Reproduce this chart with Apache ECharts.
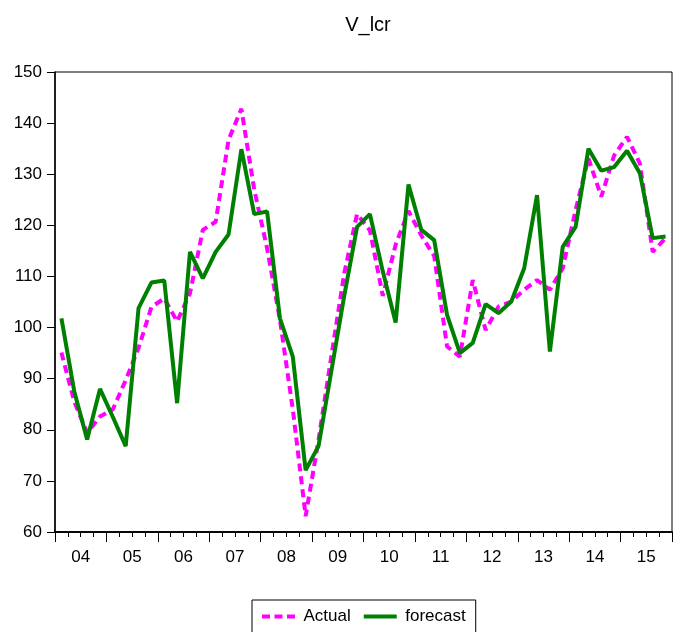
<!DOCTYPE html>
<html>
<head>
<meta charset="utf-8">
<title>V_lcr</title>
<script src="https://cdn.jsdelivr.net/npm/echarts@6/dist/echarts.min.js"></script>
<style>
  html, body { margin: 0; padding: 0; background: #fff; }
  #main { width: 681px; height: 632px; }
</style>
</head>
<body>
<div id="main"></div>
<script>
// quarters 2004Q1 .. 2015Q4
var years = ['04', '05', '06', '07', '08', '09', '10', '11', '12', '13', '14', '15'];
var quarters = [];
for (var y = 2004; y <= 2015; y++) {
    for (var q = 1; q <= 4; q++) quarters.push(y + 'Q' + q);
}

// values
var actual = [
    95.1, 85.5, 79.4, 82.6, 84.0, 89.7, 96.0, 104.0,
    105.7, 101.2, 106.7, 119.1, 120.7, 136.7, 142.8, 127.0,
    115.5, 101.5, 84.0, 63.1, 78.0, 94.4, 110.6, 122.2,
    119.0, 106.2, 116.2, 122.8, 118.0, 114.0, 96.3, 94.3,
    109.3, 99.5, 104.1, 105.1, 107.4, 109.3, 107.4, 111.6,
    123.0, 133.1, 125.6, 133.7, 137.3, 132.1, 114.8, 117.5
];
var forecast = [
    101.8, 87.5, 78.1, 88.0, 82.5, 76.8, 103.8, 108.8,
    109.2, 85.2, 114.8, 109.6, 114.8, 118.2, 134.9, 122.2,
    122.7, 101.8, 94.3, 72.1, 76.8, 91.5, 106.2, 119.7,
    122.2, 111.0, 101.0, 128.0, 119.1, 117.1, 102.5, 95.0,
    97.0, 104.6, 102.8, 105.1, 111.6, 125.9, 95.3, 115.8,
    119.7, 135.0, 130.7, 131.4, 134.6, 130.2, 117.5, 117.8
];

var FONT = 'Liberation Sans Narrow, Arial, Liberation Sans, sans-serif';
// legend swatches: three dashes / one bar
var ICON_DASH = 'path://M0,0H8V4H0Z M12.5,0H20.5V4H12.5Z M25,0H33V4H25Z';
var ICON_SOLID = 'path://M0,0H33V4H0Z';

var myChart = echarts.init(document.getElementById('main'));

var option = {
    backgroundColor: '#fff',
    animation: false,
    title: {
        text: 'V_lcr',
        left: 363,
        top: 10,
        textAlign: 'center',
        textStyle: { fontFamily: 'Arial, Liberation Sans, sans-serif', fontSize: 20, fontWeight: 'normal', color: '#000' }
    },
    legend: {
        data: [
            { name: 'Actual', icon: ICON_DASH },
            { name: 'forecast', icon: ICON_SOLID }
        ],
        left: 252,
        top: 600,
        orient: 'horizontal',
        padding: [8, 10, 12, 10],
        itemWidth: 34,
        itemHeight: 4,
        itemGap: 13,
        borderColor: '#000',
        borderWidth: 1,
        textStyle: { fontFamily: 'Arial, Liberation Sans, sans-serif', fontSize: 17, color: '#000', padding: [0, 0, 0, 3] }
    },
    grid: {
        left: 55, right: 9, top: 72, bottom: 100,
        show: true,
        borderColor: '#000',
        borderWidth: 1
    },
    xAxis: [{
        // quarter ticks
        type: 'category',
        data: quarters,
        boundaryGap: true,
        position: 'bottom',
        axisLine: { show: true, lineStyle: { color: '#000', width: 1.5 } },
        axisTick: { show: true, interval: 0, length: 5, lineStyle: { color: '#000', width: 1 } },
        axisLabel: { show: false },
        splitLine: { show: false }
    }, {
        // year ticks and labels
        type: 'category',
        data: years,
        boundaryGap: true,
        position: 'bottom',
        axisLine: { show: true, lineStyle: { color: '#000', width: 1.5 } },
        axisTick: { show: true, interval: 0, length: 10, lineStyle: { color: '#000', width: 1 } },
        axisLabel: { interval: 0, margin: 17, fontFamily: FONT, fontSize: 17, color: '#000' },
        splitLine: { show: false }
    }],
    yAxis: {
        type: 'value',
        min: 60,
        max: 150,
        interval: 10,
        axisLine: { show: true, lineStyle: { color: '#000', width: 1.5 } },
        axisTick: { show: true, length: 8, lineStyle: { color: '#000' } },
        axisLabel: { margin: 13, fontFamily: FONT, fontSize: 17, color: '#000' },
        splitLine: { show: false }
    },
    series: [{
        name: 'Actual',
        type: 'line',
        xAxisIndex: 0,
        data: actual,
        symbol: 'none',
        color: '#ff00ff',
        lineStyle: { color: '#ff00ff', width: 4, type: [8, 5], cap: 'butt' }
    }, {
        name: 'forecast',
        type: 'line',
        xAxisIndex: 0,
        data: forecast,
        symbol: 'none',
        color: '#008000',
        lineStyle: { color: '#008000', width: 4 }
    }]
};
myChart.setOption(option);
</script>
</body>
</html>
